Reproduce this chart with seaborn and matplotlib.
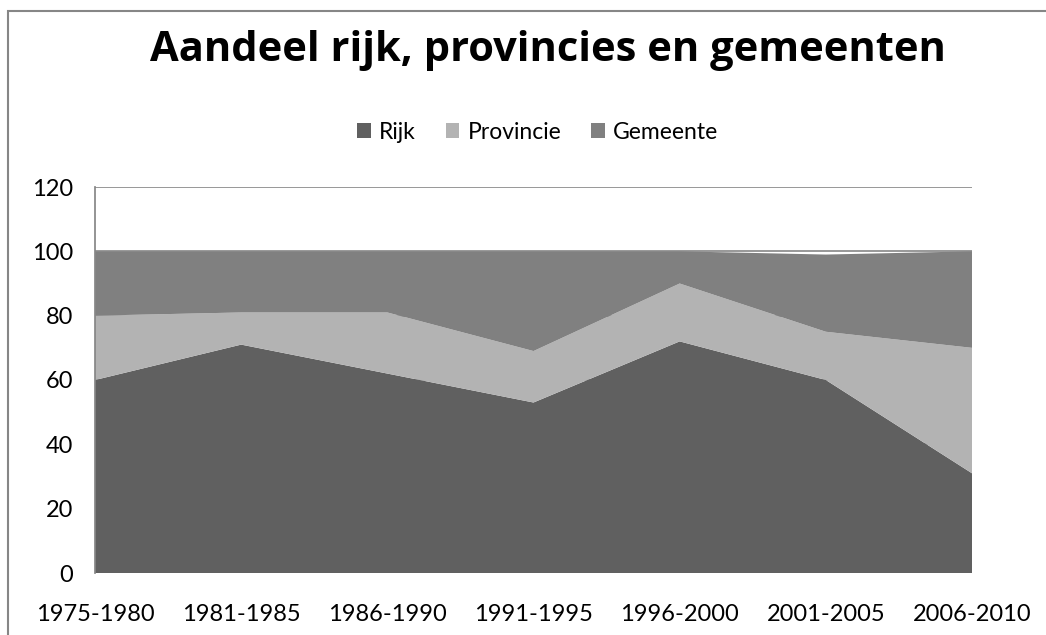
import matplotlib
matplotlib.use('Agg')
import matplotlib.pyplot as plt
import seaborn as sns
from matplotlib.patches import Rectangle, Patch

periods = ['1975-1980', '1981-1985', '1986-1990', '1991-1995', '1996-2000', '2001-2005', '2006-2010']
rijk = [60, 71, 62, 53, 72, 60, 31]
provincie = [20, 10, 19, 16, 18, 15, 39]
gemeente = [20, 19, 19, 31, 10, 24, 30]
series_names = ['Rijk', 'Provincie', 'Gemeente']
colors = ['#606060', '#b3b3b3', '#808080']

sns.set_theme(style='white')
plt.rcParams['font.family'] = ['Lato', 'DejaVu Sans']
plt.rcParams['text.color'] = 'black'

fig = plt.figure(figsize=(10.46, 6.35), dpi=100)
ax = fig.add_axes([95 / 1046, 1 - 573 / 635, (972 - 95) / 1046, (573 - 187) / 635])

x = list(range(len(periods)))
ax.stackplot(x, rijk, provincie, gemeente, colors=colors, linewidth=0, edgecolor='none', zorder=2)

ax.set_xlim(0, len(periods) - 1)
ax.set_ylim(0, 120)
ax.set_yticks(range(0, 121, 20))
ax.set_xticks(x)
ax.set_xticklabels(periods)
ax.yaxis.grid(True, color='#868686', linewidth=1.2, zorder=0)
ax.set_axisbelow(True)
for side in ['right', 'bottom', 'top']:
    ax.spines[side].set_visible(False)
ax.spines['left'].set_color('#868686')
ax.tick_params(axis='both', labelsize=17, colors='black', length=0)
ax.tick_params(axis='y', pad=16)
ax.tick_params(axis='x', pad=22)

fig.text(0.524, 0.921, 'Aandeel rijk, provincies en gemeenten', ha='center', va='center',
         fontsize=30, fontweight='bold', color='black', family=['Open Sans', 'DejaVu Sans'])

handles = [Patch(facecolor=c, edgecolor='none') for c in colors]
fig.legend(handles, series_names, loc='center', bbox_to_anchor=(0.514, 0.792), ncol=3,
           frameon=False, fontsize=16.5, handlelength=0.6, handleheight=0.6,
           handletextpad=0.35, columnspacing=1.3, labelcolor='black')

fig.patches.append(Rectangle((8 / 1046, -0.1), 1.2, 1 - 11 / 635 + 0.1, transform=fig.transFigure,
                             fill=False, edgecolor='#868686', linewidth=1.5))

fig.savefig('out.png', dpi=100)
